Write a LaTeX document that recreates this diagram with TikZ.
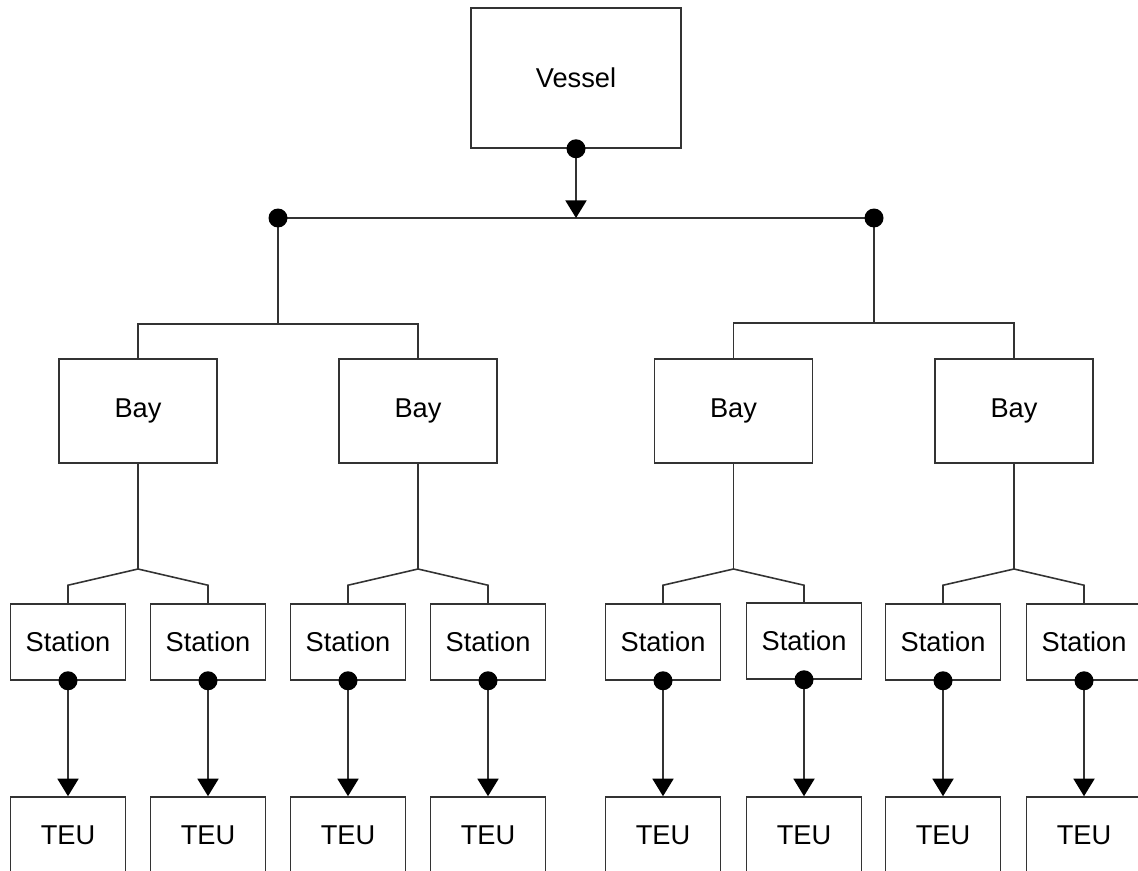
\documentclass[tikz,border=0pt]{standalone}
\usepackage{fontspec}
\setmainfont{Liberation Sans}
\usetikzlibrary{arrows.meta}
\tikzset{
  box/.style={draw=black!80,line width=0.9pt,fill=white,inner sep=0pt,font=\fontsize{15.5}{18}\selectfont},
  baybox/.style={box,minimum width=3.16cm,minimum height=2.08cm},
  stbox/.style={box,minimum width=2.3cm,minimum height=1.52cm},
  link/.style={draw=black!80,line width=0.9pt},
  ptr/.style={link,-{Triangle[length=10pt,width=12pt,color=black]}},
  dot/.style={fill=black}
}
\begin{document}
\begin{tikzpicture}[x=0.02cm,y=-0.02cm]
\useasboundingbox (0,0) rectangle (1138,871);
\clip (0,0) rectangle (1138,871);
% vessel
\node[box,minimum width=4.2cm,minimum height=2.8cm] (vessel) at (576,78) {Vessel};
% bays
\node[baybox] (bay1) at (138,411) {Bay};
\node[baybox] (bay2) at (418,411) {Bay};
\node[baybox] (bay3) at (733.5,411) {Bay};
\node[baybox] (bay4) at (1014,411) {Bay};
% stations
\node[stbox] (st1) at (68,642) {Station};
\node[stbox] (st2) at (208,642) {Station};
\node[stbox] (st3) at (348,642) {Station};
\node[stbox] (st4) at (488,642) {Station};
\node[stbox] (st5) at (663,642) {Station};
\node[stbox] (st6) at (804,641) {Station};
\node[stbox] (st7) at (943,642) {Station};
\node[stbox] (st8) at (1084,642) {Station};
% TEUs
\node[stbox] (teu1) at (68,835) {TEU};
\node[stbox] (teu2) at (208,835) {TEU};
\node[stbox] (teu3) at (348,835) {TEU};
\node[stbox] (teu4) at (488,835) {TEU};
\node[stbox] (teu5) at (663,835) {TEU};
\node[stbox] (teu6) at (804,835) {TEU};
\node[stbox] (teu7) at (943,835) {TEU};
\node[stbox] (teu8) at (1084,835) {TEU};
% vessel to bays
\coordinate (hub) at (576,218);
\coordinate (hubL) at (278,218);
\coordinate (hubR) at (874,218);
\coordinate (busL) at (278,324);
\coordinate (busR) at (874,323);
\draw[link] (hubL) -- (hubR);
\draw[ptr] (vessel.south) -- (hub);
\draw[link] (hubL) -- (busL);
\draw[link] (hubR) -- (busR);
\draw[link] (bay1.north) |- (busL) -| (bay2.north);
\draw[link] (bay3.north) |- (busR) -| (bay4.north);
% bays to stations
\coordinate (fork1) at (138,569);
\coordinate (fork2) at (418,569);
\coordinate (fork3) at (733.5,569);
\coordinate (fork4) at (1014,569);
\draw[link] (bay1.south) -- (fork1);
\draw[link] (bay2.south) -- (fork2);
\draw[link] (bay3.south) -- (fork3);
\draw[link] (bay4.south) -- (fork4);
\draw[link] (st1.north) -- ([yshift=0.36cm]st1.north) -- (fork1) -- ([yshift=0.36cm]st2.north) -- (st2.north);
\draw[link] (st3.north) -- ([yshift=0.36cm]st3.north) -- (fork2) -- ([yshift=0.36cm]st4.north) -- (st4.north);
\draw[link] (st5.north) -- ([yshift=0.36cm]st5.north) -- (fork3) -- ([yshift=0.34cm]st6.north) -- (st6.north);
\draw[link] (st7.north) -- ([yshift=0.36cm]st7.north) -- (fork4) -- ([yshift=0.36cm]st8.north) -- (st8.north);
% stations to TEUs
\draw[ptr] (st1.south) -- (teu1.north);
\draw[ptr] (st2.south) -- (teu2.north);
\draw[ptr] (st3.south) -- (teu3.north);
\draw[ptr] (st4.south) -- (teu4.north);
\draw[ptr] (st5.south) -- (teu5.north);
\draw[ptr] (st6.south) -- (teu6.north);
\draw[ptr] (st7.south) -- (teu7.north);
\draw[ptr] (st8.south) -- (teu8.north);
% dots
\fill[dot] (vessel.south) circle[radius=0.19cm];
\fill[dot] (hubL) circle[radius=0.19cm];
\fill[dot] (hubR) circle[radius=0.19cm];
\fill[dot] (st1.south) circle[radius=0.19cm];
\fill[dot] (st2.south) circle[radius=0.19cm];
\fill[dot] (st3.south) circle[radius=0.19cm];
\fill[dot] (st4.south) circle[radius=0.19cm];
\fill[dot] (st5.south) circle[radius=0.19cm];
\fill[dot] (st6.south) circle[radius=0.19cm];
\fill[dot] (st7.south) circle[radius=0.19cm];
\fill[dot] (st8.south) circle[radius=0.19cm];
\end{tikzpicture}
\end{document}
